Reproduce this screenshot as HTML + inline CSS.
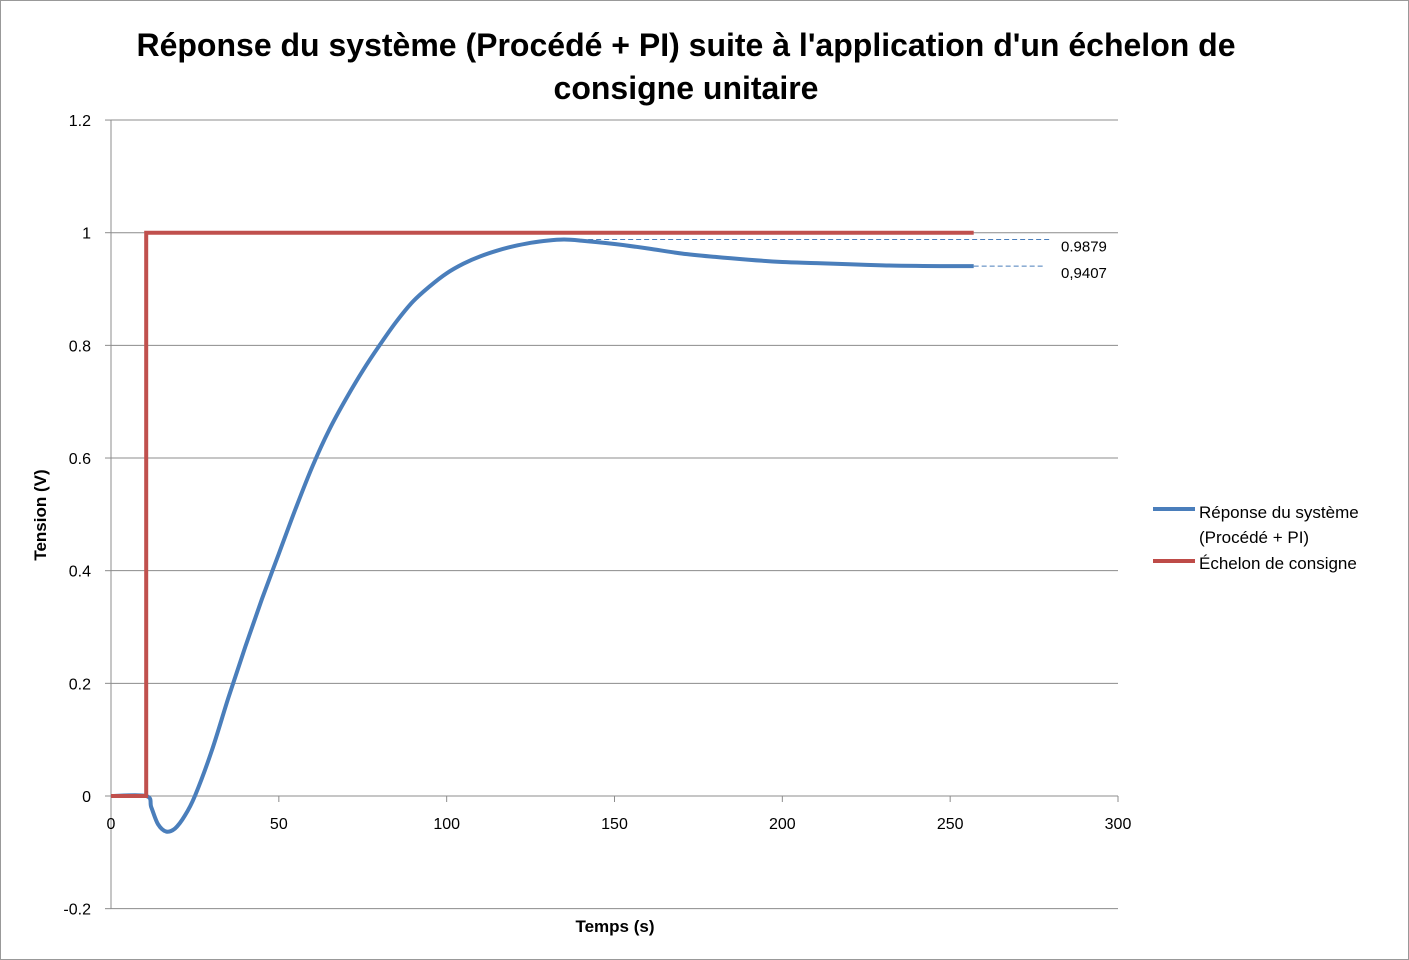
<!DOCTYPE html>
<html><head><meta charset="utf-8"><style>
body{margin:0;background:#fff;}
svg{display:block;font-family:"Liberation Sans",sans-serif;}
</style></head><body>
<svg id="chart" width="1409" height="960">
<rect x="0.5" y="0.5" width="1408" height="959" fill="#fff" stroke="#999"/>
<text x="686" y="56" text-anchor="middle" font-size="32" font-weight="bold">Réponse du système (Procédé + PI) suite à l'application d'un échelon de</text>
<text x="686" y="99" text-anchor="middle" font-size="32" font-weight="bold">consigne unitaire</text>
<g id="grid"></g><g id="axes"></g><g id="series"></g>
<text x="46" y="515" transform="rotate(-90 46 515)" text-anchor="middle" font-size="17" font-weight="bold">Tension (V)</text>
<text x="615" y="932" text-anchor="middle" font-size="17" font-weight="bold">Temps (s)</text>
<g>
<line x1="1153" y1="509" x2="1195" y2="509" stroke="#4a7ebb" stroke-width="4"/>
<text x="1199" y="518" font-size="17">Réponse du système</text>
<text x="1199" y="543" font-size="17">(Procédé + PI)</text>
<line x1="1153" y1="561" x2="1195" y2="561" stroke="#be4b48" stroke-width="4"/>
<text x="1199" y="569" font-size="17">Échelon de consigne</text>
</g>
</svg>
<script>
const xTicks=[0,50,100,150,200,250,300];
const yTicks=[-0.2,0,0.2,0.4,0.6,0.8,1,1.2];
const yTickLabels=["-0.2","0","0.2","0.4","0.6","0.8","1","1.2"];
const respT=[0,10.5,12,14,16.4,19,22,25,30,35,40,45,50,55,60,65,70,75,80,85,90,95,100,105,110,115,120,125,130,135,140,150,160,170,180,190,200,210,220,230,240,250,257];
const respV=[0,0,-0.02,-0.05,-0.063,-0.058,-0.035,0,0.08,0.175,0.265,0.35,0.43,0.51,0.585,0.65,0.705,0.755,0.80,0.842,0.878,0.905,0.928,0.945,0.958,0.968,0.976,0.982,0.986,0.9879,0.986,0.98,0.972,0.963,0.957,0.952,0.948,0.946,0.944,0.942,0.941,0.9407,0.9407];
const stepT=[0,10.5,10.5,257];
const stepV=[0,0,1,1];
const annVals=[0.9879,0.9407];
const annLabels=["0.9879","0,9407"];
const annStartT=[135,257];

const X=t=>111+t*(1007/300);
const Y=v=>796-v*563.3;
const NS="http://www.w3.org/2000/svg";
function mk(parent,tag,attrs){const e=document.createElementNS(NS,tag);for(const k in attrs)e.setAttribute(k,attrs[k]);document.getElementById(parent).appendChild(e);return e;}

yTicks.forEach((v,i)=>{
  if(v!==0&&v!==-0.2){const g=mk('grid','line',{x1:111,x2:1118,y1:Y(v),y2:Y(v),stroke:'#8c8c8c','stroke-width':1});
  
  }
  const tk=mk('axes','line',{x1:105,x2:111,y1:Y(v),y2:Y(v),stroke:'#8c8c8c'});
  
  
  const t=mk('axes','text',{x:91,y:Y(v)+6,'text-anchor':'end','font-size':16});
  t.textContent=yTickLabels[i];
  
  
});
const ya=mk('axes','line',{x1:111,x2:111,y1:Y(1.2),y2:Y(-0.2),stroke:'#8c8c8c'});


const xa=mk('axes','line',{x1:111,x2:1118,y1:Y(0),y2:Y(0),stroke:'#8c8c8c'});


const bl=mk('axes','line',{x1:111,x2:1118,y1:Y(-0.2),y2:Y(-0.2),stroke:'#8c8c8c'});


xTicks.forEach(t=>{
  const tk=mk('axes','line',{x1:X(t),x2:X(t),y1:Y(0),y2:Y(0)+6,stroke:'#8c8c8c'});
  
  
  const l=mk('axes','text',{x:X(t),y:Y(0)+33,'text-anchor':'middle','font-size':16});
  l.textContent=String(t);
  
  
});
annVals.forEach((v,i)=>{
  const d=mk('series','line',{x1:X(annStartT[i]),x2:i===0?1050:1045,y1:Y(v),y2:Y(v),stroke:'#4a7ebb','stroke-width':1,'stroke-dasharray':'5,3'});
  
  
  const t=mk('series','text',{x:1061,y:Y(v)+12,'font-size':15});
  t.textContent=annLabels[i];
  
  
});
function smooth(T,V){
  const P=T.map((t,i)=>[X(t),Y(V[i])]);
  let d='M'+P[0][0].toFixed(1)+','+P[0][1].toFixed(1);
  for(let i=0;i<P.length-1;i++){
    const p0=P[Math.max(0,i-1)],p1=P[i],p2=P[i+1],p3=P[Math.min(P.length-1,i+2)];
    const c1=[p1[0]+(p2[0]-p0[0])/6,p1[1]+(p2[1]-p0[1])/6];
    const c2=[p2[0]-(p3[0]-p1[0])/6,p2[1]-(p3[1]-p1[1])/6];
    d+=' C'+c1.map(n=>n.toFixed(1)).join(',')+' '+c2.map(n=>n.toFixed(1)).join(',')+' '+p2[0].toFixed(1)+','+p2[1].toFixed(1);
  }
  return d;
}
const r=mk('series','path',{d:smooth(respT,respV),fill:'none',stroke:'#4a7ebb','stroke-width':4,'stroke-linejoin':'round'});


const pts=(T,V)=>T.map((t,i)=>X(t).toFixed(1)+','+Y(V[i]).toFixed(1)).join(' ');
const s=mk('series','polyline',{points:pts(stepT,stepV),fill:'none',stroke:'#c0504d','stroke-width':4});


</script>
</body></html>
